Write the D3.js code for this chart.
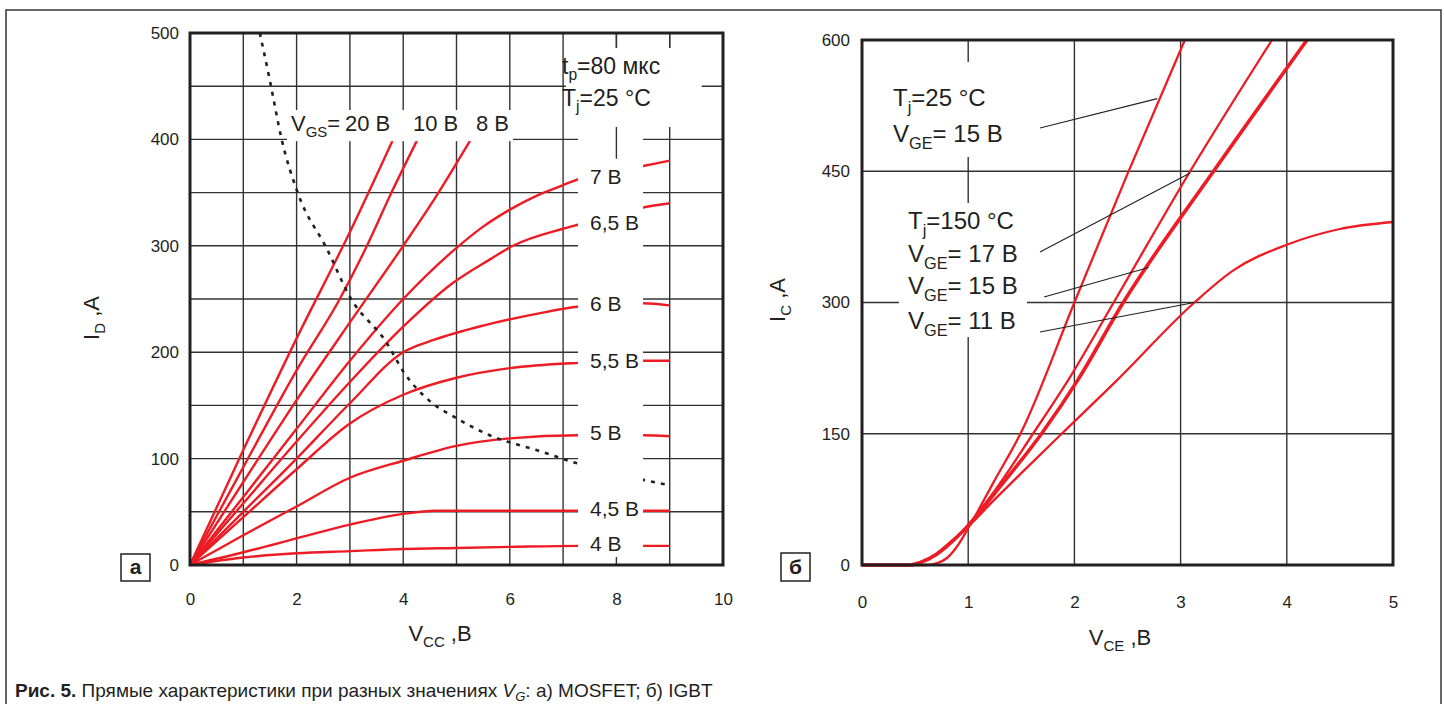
<!DOCTYPE html>
<html lang="ru">
<head>
<meta charset="UTF-8">
<title>Прямые характеристики MOSFET и IGBT</title>
<script src="https://d3js.org/d3.v7.min.js"></script>
<style>
  body { margin: 0; background: #fff; }
  svg { display: block; font-family: 'Liberation Sans', Arial, sans-serif; }
</style>
</head>
<body>
<svg id="chart" width="1444" height="704"></svg>
<script>
// ---- (а) MOSFET: I_D, A vs V_CC, B
const mosTicksX = [0, 2, 4, 6, 8, 10];
const mosTicksY = [0, 100, 200, 300, 400, 500];
const mosGridX = [1, 2, 3, 4, 5, 6, 7, 8, 9];
const mosGridY = [50, 100, 150, 200, 250, 300, 350, 400, 450];

// steep curves (label on top)
const mos20 = [[0,0],[1,108],[2,213],[3,313],[3.81,400]];
const mos10 = [[0,0],[1,92],[2,183],[2.81,250],[3.32,300],[3.78,350],[4.27,400]];
const mos8  = [[0,0],[1,78],[2,155],[3,228],[4,300],[4.6,345],[5.27,400]];
// saturating curves (label at right)
const mos7  = [[0,0],[1,64],[2,128],[3,192],[4,250],[5,298],[5.5,318],[6,334],[6.5,347],[7,357],[7.3,363],[8.5,375],[9,380]];
const mos65 = [[0,0],[1,58],[2,116],[3,172],[4,224],[4.93,265],[5.62,287],[6.06,300],[7,316],[7.3,320],[8.5,336],[9,340]];
const mos6  = [[0,0],[1,50],[2,100],[3,152],[4,200],[4.6,212],[5.5,225],[6.5,236],[7.3,243],[8.5,246],[9,244]];
const mos55 = [[0,0],[1,45],[2,90],[3,133],[4,160],[5,176],[6,185],[7.3,190],[8.5,192],[9,192]];
const mos5  = [[0,0],[1,28],[2,55],[3,82],[4,98],[5,112],[6,119],[7.3,122],[8.5,122],[9,121]];
const mos45 = [[0,0],[1,12],[2,25],[3,38],[4,48],[4.6,51],[7.3,51],[8.5,51],[9,51]];
const mos4  = [[0,0],[1,7],[2,11],[3,13],[4,15],[5,16],[6,17],[7.3,18],[8.5,18],[9,18]];
const mosTopNames = ["20 В", "10 В", "8 В"];
const mosSatNames = ["7 В", "6,5 В", "6 В", "5,5 В", "5 В", "4,5 В", "4 В"];
// power limit (dotted)
const mosLimit = [[1.31,500],[1.5,455],[1.72,400],[2.02,350],[2.57,297],[3,252],[3.7,208],[4,182],
                  [4.5,154],[5,138],[5.62,122],[6.5,108],[7.3,95],[8.5,80],[9,75]];

// ---- (б) IGBT: I_C, A vs V_CE, B
const igbtTicksX = [0, 1, 2, 3, 4, 5];
const igbtTicksY = [0, 150, 300, 450, 600];
const igbtGridX = [1, 2, 3, 4];
const igbtGridY = [150, 300, 450];
const igbt25_15  = [[0,0],[0.6,0],[0.7,2],[0.8,8],[0.9,22],[1,42],[1.25,97],[1.5,152],[2,300],[2.5,447],[3.04,600]];
const igbt150_17 = [[0,0],[0.45,0],[0.55,3],[0.7,12],[0.85,27],[1,46],[1.25,85],[1.61,150],[1.94,211],[2.37,300],[3.09,450],[3.86,600]];
const igbt150_15 = [[0,0],[0.45,0],[0.55,3],[0.7,12],[0.85,27],[1,45],[1.25,82],[1.69,150],[2.03,211],[2.46,300],[3.31,450],[4.19,600]];
const igbt150_11 = [[0,0],[0.45,0],[0.55,3],[0.7,13],[0.85,28],[1,44],[1.25,75],[1.5,105],[1.88,150],[2.4,211],[3.13,300],[3.5,337],[4,366],[4.5,384],[5,392]];

const RED = "#ed1c24", INK = "#231f20";
const svg = d3.select("#chart");

// outer frame
svg.append("rect").attr("x", 6).attr("y", 10).attr("width", 1435).attr("height", 720)
  .attr("fill", "none").attr("stroke", "#333").attr("stroke-width", 1.5);

// text with subscript parts, parts = [[text, isSub], ...]
function richText(g, x, y, parts, size, anchor) {
  const t = g.append("text").attr("x", x).attr("y", y).attr("font-size", size)
    .attr("fill", INK).attr("text-anchor", anchor || "start");
  let sub = false;
  parts.forEach(([s, isSub]) => {
    const ts = t.append("tspan").text(s);
    if (isSub && !sub) ts.attr("dy", size * 0.28).attr("font-size", size * 0.68);
    if (!isSub && sub) ts.attr("dy", -size * 0.28);
    sub = isSub;
  });
  return t;
}

// ===================== chart (а) =====================
const xL = d3.scaleLinear().domain([0, 10]).range([190, 723]);
const yL = d3.scaleLinear().domain([0, 500]).range([565, 33]);
const gA = svg.append("g");

gA.append("g").selectAll("line").data(mosGridX).join("line")
  .attr("x1", d => xL(d)).attr("x2", d => xL(d)).attr("y1", yL(0)).attr("y2", yL(500))
  .attr("stroke", "#333").attr("stroke-width", 1.4);
gA.append("g").selectAll("line").data(mosGridY).join("line")
  .attr("x1", xL(0)).attr("x2", xL(10)).attr("y1", d => yL(d)).attr("y2", d => yL(d))
  .attr("stroke", "#333").attr("stroke-width", 1.4);

const lineL = d3.line().x(d => xL(d[0])).y(d => yL(d[1])).curve(d3.curveMonotoneX);
const mosAll = [mos20, mos10, mos8, mos7, mos65, mos6, mos55, mos5, mos45, mos4];
gA.append("g").selectAll("path").data(mosAll).join("path")
  .attr("d", lineL).attr("fill", "none").attr("stroke", RED).attr("stroke-width", 2.4);

gA.append("path").attr("d", lineL(mosLimit)).attr("fill", "none")
  .attr("stroke", INK).attr("stroke-width", 2.6).attr("stroke-dasharray", "4,6");

// label column on the right (breaks curves and grid)
const colTop = 127;
gA.append("rect").attr("x", xL(7.28)).attr("y", colTop)
  .attr("width", xL(8.5) - xL(7.28)).attr("height", yL(0) - colTop - 2).attr("fill", "#fff");

// t_p / T_j annotation
gA.append("rect").attr("x", 566).attr("y", 48)
  .attr("width", xL(9.6) - 566).attr("height", colTop - 48).attr("fill", "#fff");
richText(gA, 562, 74, [["t", false], ["p", true], ["=80 мкс", false]], 23);
richText(gA, 562, 106, [["T", false], ["j", true], ["=25 °C", false]], 23);

// V_GS label for the steep curves
const vgsBox = gA.append("rect").attr("fill", "#fff");
const vgs = richText(gA, 291, 131, [["V", false], ["GS", true], ["=", false]], 22);
const topX = [345, 413, 476];
mosTopNames.forEach((s, i) => vgs.append("tspan").attr("x", topX[i]).text(s));
const vb = vgs.node().getBBox();
vgsBox.attr("x", vb.x - 4).attr("y", vb.y - 1).attr("width", vb.width + 8).attr("height", vb.height + 2);

// right labels at V = 7.3
const satCurves = [mos7, mos65, mos6, mos55, mos5, mos45, mos4];
gA.append("g").selectAll("text").data(satCurves).join("text")
  .attr("x", 590).attr("y", d => yL(d.find(p => p[0] === 7.3)[1]) + 5)
  .attr("font-size", 21).attr("fill", INK)
  .text((d, i) => mosSatNames[i]);

// 8 V / 9 V stubs visible around the white boxes
const stubBot = yL(mos7.find(p => p[0] === 7.3)[1]) - 20;
const stubs = [[8, colTop, stubBot], [8, yL(0) - 8, yL(0)], [8, yL(500), 48], [9, yL(500), 48]];
gA.append("g").selectAll("line").data(stubs).join("line")
  .attr("x1", d => xL(d[0])).attr("x2", d => xL(d[0])).attr("y1", d => d[1]).attr("y2", d => d[2])
  .attr("stroke", "#333").attr("stroke-width", 1.4);

gA.append("rect").attr("x", xL(0)).attr("y", yL(500)).attr("width", xL(10) - xL(0))
  .attr("height", yL(0) - yL(500)).attr("fill", "none").attr("stroke", INK).attr("stroke-width", 3);

// axes
gA.append("g").attr("transform", `translate(${xL(0)},0)`)
  .call(d3.axisLeft(yL).tickValues(mosTicksY).tickSize(0).tickPadding(11));
gA.append("g").attr("transform", `translate(0,${yL(0)})`)
  .call(d3.axisBottom(xL).tickValues(mosTicksX).tickSize(0).tickPadding(28));

richText(gA, 440, 641, [["V", false], ["CC", true], [" ,В", false]], 22, "middle");
richText(gA, 0, 0, [["I", false], ["D", true], [" ,A", false]], 22, "middle")
  .attr("transform", "translate(99,318) rotate(-90)");

// panel mark "а"
gA.append("rect").attr("x", 121).attr("y", 554).attr("width", 29).attr("height", 27)
  .attr("fill", "#fff").attr("stroke", INK).attr("stroke-width", 1.5);
gA.append("text").attr("x", 135.5).attr("y", 574).attr("text-anchor", "middle")
  .attr("font-size", 21).attr("font-weight", "bold").attr("fill", INK).text("а");

// ===================== chart (б) =====================
const xR = d3.scaleLinear().domain([0, 5]).range([862, 1393]);
const yR = d3.scaleLinear().domain([0, 600]).range([565, 40]);
const gB = svg.append("g");

gB.append("g").selectAll("line").data(igbtGridX).join("line")
  .attr("x1", d => xR(d)).attr("x2", d => xR(d)).attr("y1", yR(0)).attr("y2", yR(600))
  .attr("stroke", "#333").attr("stroke-width", 1.4);
gB.append("g").selectAll("line").data(igbtGridY).join("line")
  .attr("x1", xR(0)).attr("x2", xR(5)).attr("y1", d => yR(d)).attr("y2", d => yR(d))
  .attr("stroke", "#333").attr("stroke-width", 1.4);

// annotations with white boxes
gB.append("rect").attr("x", 880).attr("y", 62).attr("width", 150).attr("height", 95).attr("fill", "#fff");
richText(gB, 893, 106, [["T", false], ["j", true], ["=25 °C", false]], 24);
richText(gB, 893, 142, [["V", false], ["GE", true], ["= 15 В", false]], 24);

gB.append("rect").attr("x", 899).attr("y", 203).attr("width", 128).attr("height", 134).attr("fill", "#fff");
richText(gB, 908, 229, [["T", false], ["j", true], ["=150 °C", false]], 24);
richText(gB, 908, 262, [["V", false], ["GE", true], ["= 17 В", false]], 24);
richText(gB, 908, 294, [["V", false], ["GE", true], ["= 15 В", false]], 24);
richText(gB, 908, 329, [["V", false], ["GE", true], ["= 11 В", false]], 24);

const lineR = d3.line().x(d => xR(d[0])).y(d => yR(d[1])).curve(d3.curveMonotoneX);
const igbtThin = [igbt25_15, igbt150_17, igbt150_11];
gB.append("g").selectAll("path").data(igbtThin).join("path")
  .attr("d", lineR).attr("fill", "none").attr("stroke", RED).attr("stroke-width", 2.3);
gB.append("path").attr("d", lineR(igbt150_15)).attr("fill", "none")
  .attr("stroke", RED).attr("stroke-width", 3.6);

// leader lines: [start px, end point on curve in data units]
const leaders = [
  [[1040, 128], [2.78, 533]],
  [[1040, 252], [3.09, 448]],
  [[1044, 297], [2.7, 340]],
  [[1040, 332], [3.13, 300]]
];
gB.append("g").selectAll("line").data(leaders).join("line")
  .attr("x1", d => d[0][0]).attr("y1", d => d[0][1])
  .attr("x2", d => xR(d[1][0])).attr("y2", d => yR(d[1][1]))
  .attr("stroke", INK).attr("stroke-width", 1.1);

gB.append("rect").attr("x", xR(0)).attr("y", yR(600)).attr("width", xR(5) - xR(0))
  .attr("height", yR(0) - yR(600)).attr("fill", "none").attr("stroke", INK).attr("stroke-width", 3);

gB.append("g").attr("transform", `translate(${xR(0)},0)`)
  .call(d3.axisLeft(yR).tickValues(igbtTicksY).tickSize(0).tickPadding(12));
gB.append("g").attr("transform", `translate(0,${yR(0)})`)
  .call(d3.axisBottom(xR).tickValues(igbtTicksX).tickFormat(d3.format("d")).tickSize(0).tickPadding(31));

richText(gB, 1120, 645, [["V", false], ["CE", true], [" ,В", false]], 22, "middle");
richText(gB, 0, 0, [["I", false], ["C", true], [" ,A", false]], 22, "middle")
  .attr("transform", "translate(785,300) rotate(-90)");

gB.append("rect").attr("x", 781).attr("y", 553).attr("width", 29).attr("height", 28)
  .attr("fill", "#fff").attr("stroke", INK).attr("stroke-width", 1.5);
gB.append("text").attr("x", 795.5).attr("y", 574).attr("text-anchor", "middle")
  .attr("font-size", 21).attr("font-weight", "bold").attr("fill", INK).text("б");

// axis styling
svg.selectAll(".domain").remove();
svg.selectAll(".tick text").attr("font-size", 17).attr("fill", INK)
  .attr("font-family", "'Liberation Sans', Arial, sans-serif");

// caption
const cap = svg.append("text").attr("x", 15).attr("y", 697).attr("font-size", 19).attr("fill", INK)
  .attr("font-family", "'Liberation Sans Narrow', 'Liberation Sans', Arial, sans-serif");
cap.append("tspan").attr("font-weight", "bold").text("Рис.  5.");
cap.append("tspan").text(" Прямые характеристики при разных значениях ");
cap.append("tspan").attr("font-style", "italic").text("V");
cap.append("tspan").attr("font-style", "italic").attr("font-size", 13).attr("dy", 4).text("G");
cap.append("tspan").attr("dy", -4).text(": а) MOSFET; б) IGBT");
</script>
</body>
</html>
